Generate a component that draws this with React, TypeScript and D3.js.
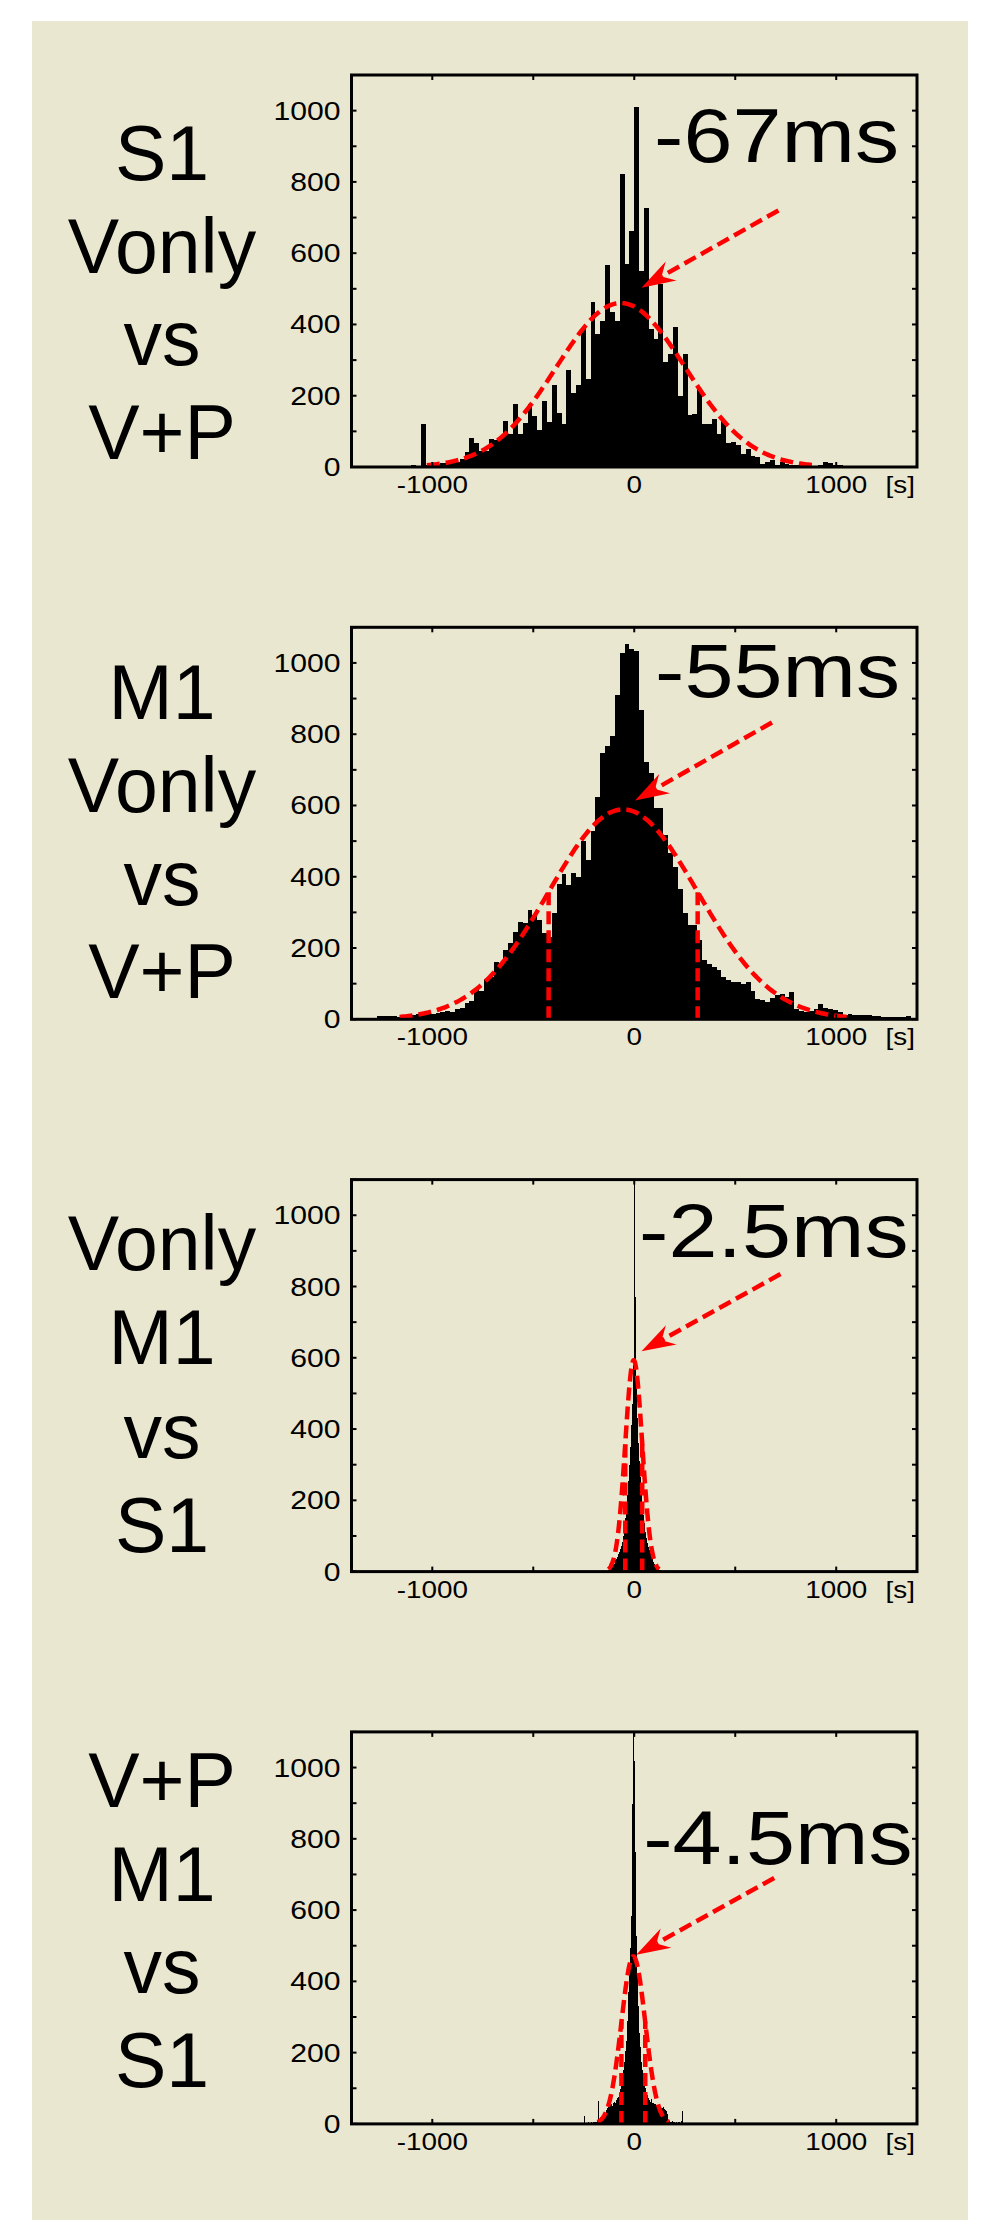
import React from 'react';
import * as d3 from 'd3';

// ---------- data ----------
const xDomain = [-1400, 1400];
const yDomain = [0, 1100];
const xTickValues = [-1000, -500, 0, 500, 1000];
const xTickLabelValues = [-1000, 0, 1000];
const xUnitLabel = '[s]';
const yTickValues = [0, 100, 200, 300, 400, 500, 600, 700, 800, 900, 1000, 1100];
const yTickLabelValues = [0, 200, 400, 600, 800, 1000];

const panelTitles = [
  ['S1', 'Vonly', 'vs', 'V+P'],
  ['M1', 'Vonly', 'vs', 'V+P'],
  ['Vonly', 'M1', 'vs', 'S1'],
  ['V+P', 'M1', 'vs', 'S1'],
];
const lagLabels = ['-67ms', '-55ms', '-2.5ms', '-4.5ms'];

// histogram bins: left edge of first bin and bin width (ms)
const binStarts = [-1104, -1392, -142.5, -252.5];
const binWidths = [24, 24, 5, 5];

const s1VonlyVsVP = [
  6, 0, 120, 5, 8, 9, 10, 12, 12, 15,
  23, 41, 80, 67, 46, 46, 78, 76, 80, 129,
  93, 176, 93, 124, 176, 143, 104, 186, 126, 230,
  152, 122, 273, 207, 230, 390, 248, 463, 374, 411,
  568, 435, 411, 822, 570, 663, 1011, 551, 727, 388,
  360, 514, 294, 316, 394, 199, 316, 145, 150, 218,
  121, 121, 136, 93, 131, 67, 70, 61, 36, 51,
  30, 28, 9, 14, 19, 5, 14, 9, 7, 6,
  5, 5, 4, 4, 5, 14, 10, 5, 6, 3,
  4, 3, 2, 3, 3, 2, 3, 2, 2, 3,
  2, 2,
];
const m1VonlyVsVP = [
  4, 3, 4, 3, 5, 9, 8, 10, 8, 6,
  10, 13, 12, 14, 12, 15, 16, 18, 20, 22,
  21, 30, 33, 45, 52, 86, 80, 112, 118, 161,
  156, 194, 213, 245, 274, 271, 306, 292, 278, 241,
  231, 297, 381, 408, 377, 410, 400, 499, 447, 527,
  625, 747, 766, 794, 911, 1028, 1053, 1039, 1033, 869,
  723, 690, 592, 592, 517, 466, 428, 367, 297, 264,
  264, 222, 166, 155, 147, 138, 119, 110, 105, 105,
  100, 105, 80, 58, 53, 49, 60, 67, 72, 62,
  77, 30, 23, 21, 24, 30, 44, 33, 30, 25,
  21, 11, 16, 13, 11, 12, 11, 8, 9, 7,
  7, 6, 7, 6, 8, 5,
];
const vonlyM1VsS1 = [
  2, 3, 2, 5, 8, 12, 15, 18, 22, 32,
  36, 40, 48, 56, 64, 72, 84, 100, 125, 150,
  180, 215, 255, 300, 350, 410, 470, 580, 1150, 770,
  530, 430, 360, 310, 265, 225, 190, 160, 135, 112,
  95, 80, 70, 60, 52, 44, 36, 28, 22, 18,
  15, 12, 9, 5, 4, 3, 2,
];
const vpM1VsS1 = [
  0, 21, 2, 3, 2, 4, 3, 2, 4, 3,
  5, 4, 6, 5, 8, 64, 7, 10, 12, 15,
  18, 22, 30, 40, 46, 48, 52, 55, 50, 58,
  62, 60, 66, 72, 76, 88, 98, 112, 128, 150,
  175, 205, 232, 290, 370, 450, 495, 582, 898, 1150,
  1017, 762, 526, 420, 330, 255, 215, 175, 150, 125,
  110, 100, 88, 80, 72, 66, 62, 70, 60, 58,
  55, 56, 52, 50, 54, 48, 50, 46, 44, 47,
  42, 40, 36, 28, 12, 8, 6, 5, 7, 4,
  6, 3, 5, 3, 6, 4, 3, 8, 35, 3,
  0,
];
const panelCounts = [s1VonlyVsVP, m1VonlyVsVP, vonlyM1VsS1, vpM1VsS1];

// gaussian fits
const fitMeans = [-67, -55, -2.5, -4.5];
const fitSigmas = [320, 369, 42, 59];
const fitPeaks = [460, 589, 593, 470];
const showSigmaLines = [false, true, true, true];

// ---------- layout ----------
const PAGE_W = 991;
const PAGE_H = 2220;
const BG = '#e9e7cf';
const RED = '#ff0000';
const FONT = '"Liberation Sans", Arial, Helvetica, sans-serif';
const frameLeft = 351.5;
const frameRight = 917;
const panelTop0 = 75;
const panelPitch = 552.3;
const panelH = 392;
const titleX = 162;
const titleOffsets = [
  [105, 198, 290, 384],
  [92, 185, 278, 371],
  [90, 184, 278, 372],
  [75, 169, 261, 355],
];
// annotation placement in data coordinates
const arrowFrom = [[714, 720], [682, 833], [724, 835], [693, 690]];
const arrowTo = [[36, 503], [4, 614], [36, 618], [10, 475]];
const lagAnchor = [[1311, 855], [1316, 904], [1358, 884], [1378, 730]];
const STRETCH = 1.16;
const RED_W = 4.5;
const DASH = '13 6';

function Panel({ i }: { i: number }) {
  const top = panelTop0 + panelPitch * i;
  const bottom = top + panelH;
  const x = d3.scaleLinear().domain(xDomain).range([frameLeft, frameRight]);
  const y = d3.scaleLinear().domain(yDomain).range([bottom, top]);
  const counts = panelCounts[i];
  const start = binStarts[i];
  const w = binWidths[i];
  const mu = fitMeans[i];
  const s = fitSigmas[i];
  const amp = fitPeaks[i];
  const g = (t: number) => amp * Math.exp(-((t - mu) * (t - mu)) / (2 * s * s));
  const pts = d3.range(mu - 3 * s, mu + 3 * s + s / 80, s / 40).map((t) => [t, g(t)] as [number, number]);
  const line = d3
    .line<[number, number]>()
    .x((d) => x(d[0]))
    .y((d) => y(d[1]))
    .curve(d3.curveLinear);
  const clipId = `clip${i}`;

  // arrow geometry
  const p0 = [x(arrowFrom[i][0]), y(arrowFrom[i][1])];
  const p1 = [x(arrowTo[i][0]), y(arrowTo[i][1])];
  const dx = p0[0] - p1[0];
  const dy = p0[1] - p1[1];
  const len = Math.hypot(dx, dy);
  const ux = dx / len;
  const uy = dy / len;
  const px = -uy;
  const py = ux;
  const headL = 34;
  const headW = 11;
  const notch = 23;
  const b1 = [p1[0] + ux * headL + px * headW, p1[1] + uy * headL + py * headW];
  const b2 = [p1[0] + ux * headL - px * headW, p1[1] + uy * headL - py * headW];
  const nn = [p1[0] + ux * notch, p1[1] + uy * notch];

  return (
    <g>
      <defs>
        <clipPath id={clipId}>
          <rect x={frameLeft} y={top} width={frameRight - frameLeft} height={panelH} />
        </clipPath>
      </defs>
      {panelTitles[i].map((t, k) => (
        <text key={k} x={titleX} y={top + titleOffsets[i][k]} textAnchor="middle" fontFamily={FONT} fontSize={77} fill="#000">
          {t}
        </text>
      ))}
      <g clipPath={`url(#${clipId})`}>
        {counts.map((v, k) => {
          const x0 = start + k * w;
          if (v <= 0) return null;
          return (
            <rect
              key={k}
              x={x(x0)}
              y={y(v)}
              width={x(x0 + w) - x(x0)}
              height={y(0) - y(v)}
              fill="#000"
              shapeRendering="crispEdges"
            />
          );
        })}
      </g>
      <path d={line(pts) || ''} fill="none" stroke={RED} strokeWidth={RED_W} strokeDasharray={DASH} />
      {showSigmaLines[i] &&
        [mu - s, mu + s].map((t, k) => (
          <line key={k} x1={x(t)} x2={x(t)} y1={y(0)} y2={y(g(t))} stroke={RED} strokeWidth={RED_W} strokeDasharray={DASH} />
        ))}
      <rect x={frameLeft} y={top} width={frameRight - frameLeft} height={panelH} fill="none" stroke="#000" strokeWidth={3} />
      {xTickValues.map((t) => (
        <g key={t}>
          <line x1={x(t)} x2={x(t)} y1={bottom} y2={bottom - 5} stroke="#000" strokeWidth={2} />
          <line x1={x(t)} x2={x(t)} y1={top} y2={top + 5} stroke="#000" strokeWidth={2} />
        </g>
      ))}
      {yTickValues.map((t) => (
        <g key={t}>
          <line x1={frameLeft} x2={frameLeft + 5} y1={y(t)} y2={y(t)} stroke="#000" strokeWidth={2} />
          <line x1={frameRight} x2={frameRight - 5} y1={y(t)} y2={y(t)} stroke="#000" strokeWidth={2} />
        </g>
      ))}
      {yTickLabelValues.map((t) => (
        <text
          key={t}
          transform={`translate(${frameLeft - 11},${y(t) + 9}) scale(${STRETCH},1)`}
          textAnchor="end"
          fontFamily={FONT}
          fontSize={26}
          fill="#000"
        >
          {t}
        </text>
      ))}
      {xTickLabelValues.map((t) => (
        <text
          key={t}
          transform={`translate(${x(t)},${bottom + 26}) scale(${STRETCH},1)`}
          textAnchor="middle"
          fontFamily={FONT}
          fontSize={24}
          fill="#000"
        >
          {t}
        </text>
      ))}
      <text
        transform={`translate(${frameRight - 2},${bottom + 26}) scale(${STRETCH},1)`}
        textAnchor="end"
        fontFamily={FONT}
        fontSize={24}
        fill="#000"
      >
        {xUnitLabel}
      </text>
      <text
        transform={`translate(${x(lagAnchor[i][0])},${y(lagAnchor[i][1])}) scale(${STRETCH},1)`}
        textAnchor="end"
        fontFamily={FONT}
        fontSize={76}
        fill="#000"
      >
        {lagLabels[i]}
      </text>
      <line x1={p0[0]} y1={p0[1]} x2={nn[0]} y2={nn[1]} stroke={RED} strokeWidth={RED_W} strokeDasharray={DASH} />
      <polygon points={[p1, b1, nn, b2].map((p) => p.join(',')).join(' ')} fill={RED} />
    </g>
  );
}

export default function App() {
  return (
    <div style={{ position: 'absolute', left: 0, top: 0 }}>
      <svg width={PAGE_W} height={PAGE_H} style={{ display: 'block', background: '#fff' }}>
        <rect x={32} y={21} width={936} height={PAGE_H - 21} fill={BG} />
        {[0, 1, 2, 3].map((i) => (
          <Panel key={i} i={i} />
        ))}
      </svg>
    </div>
  );
}
